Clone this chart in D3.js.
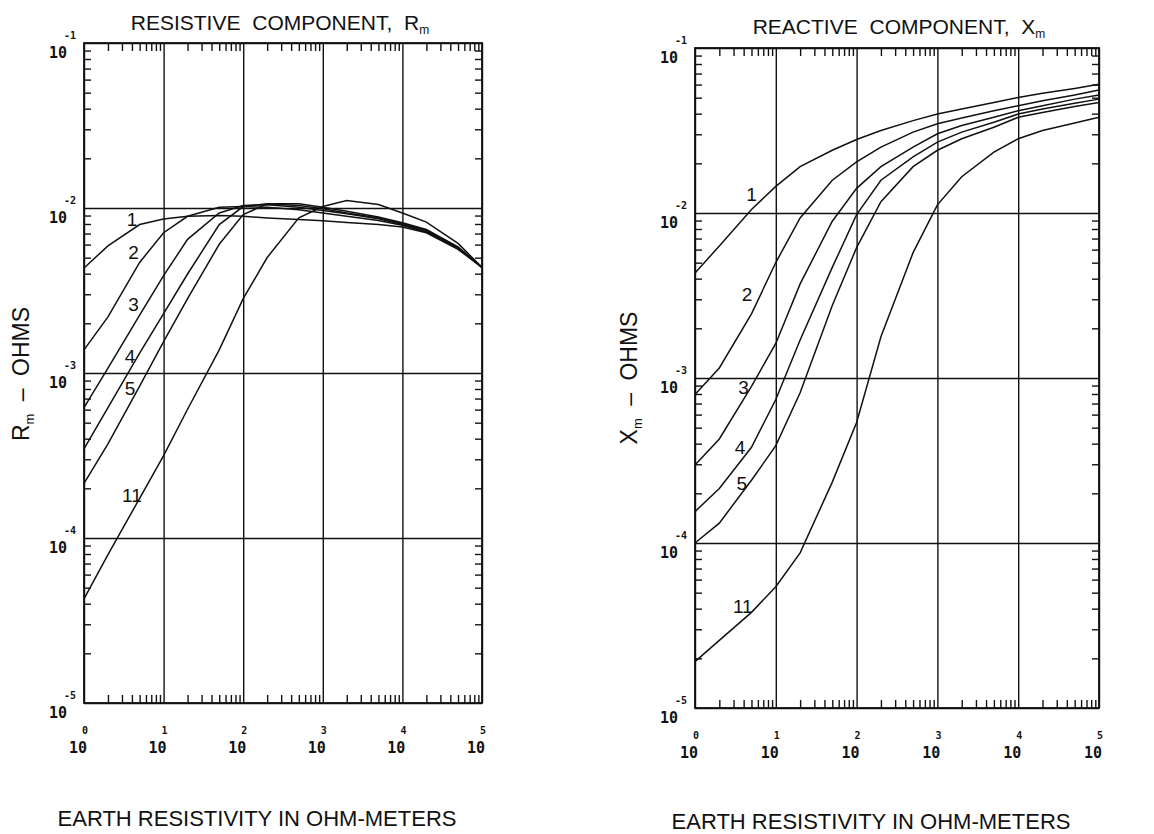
<!DOCTYPE html>
<html>
<head>
<meta charset="UTF-8">
<title>Resistive and reactive component vs earth resistivity</title>
<style>
body { margin:0; background:#fff; }
svg { display:block; }
.grid line, .minor line { stroke:#111; stroke-width:1.4px; }
.domain { display:none; }
.frame { fill:none; stroke:#111; stroke-width:1.8px; }
.curve { fill:none; stroke:#111; stroke-width:1.5px; }
.lab { font-family:"Liberation Sans", Arial, sans-serif; fill:#111; }
.tlab { font-family:"DejaVu Sans Mono", monospace; font-weight:bold; fill:#111; }
</style>
</head>
<body>
<script src="https://cdn.jsdelivr.net/npm/d3@7"></script>
<script>
// earth resistivity, ohm-meters (sample points along every curve)
const rho = [1, 2, 5, 10, 20, 50, 100, 200, 500, 1e3, 2e3, 5e3, 1e4, 2e4, 5e4, 1e5];
const curveIds = ['1', '2', '3', '4', '5', '11'];

// resistive component Rm, ohms
const rm1  = [4.33e-3, 5.89e-3, 7.94e-3, 8.57e-3, 8.91e-3, 9.02e-3, 8.91e-3, 8.71e-3, 8.51e-3, 8.36e-3, 8.17e-3, 7.94e-3, 7.67e-3, 7.08e-3, 5.62e-3, 4.37e-3];
const rm2  = [1.38e-3, 2.19e-3, 4.68e-3, 7.08e-3, 8.91e-3, 1.01e-2, 1.02e-2, 1.01e-2, 9.77e-3, 9.33e-3, 8.91e-3, 8.41e-3, 7.85e-3, 7.16e-3, 5.69e-3, 4.37e-3];
const rm3  = [6.17e-4, 1.07e-3, 2.24e-3, 3.89e-3, 6.46e-3, 9.33e-3, 1.035e-2, 1.047e-2, 1.01e-2, 9.66e-3, 9.23e-3, 8.61e-3, 7.94e-3, 7.24e-3, 5.75e-3, 4.37e-3];
const rm4  = [3.47e-4, 6.17e-4, 1.32e-3, 2.29e-3, 3.98e-3, 7.94e-3, 1.02e-2, 1.06e-2, 1.035e-2, 9.89e-3, 9.33e-3, 8.71e-3, 8.04e-3, 7.33e-3, 5.75e-3, 4.37e-3];
const rm5  = [2.14e-4, 3.72e-4, 8.32e-4, 1.55e-3, 2.82e-3, 6.03e-3, 9.12e-3, 1.06e-2, 1.06e-2, 1.01e-2, 9.55e-3, 8.81e-3, 8.13e-3, 7.41e-3, 5.82e-3, 4.37e-3];
const rm11 = [4.27e-5, 7.94e-5, 1.74e-4, 3.16e-4, 6.03e-4, 1.38e-3, 2.82e-3, 5.01e-3, 8.71e-3, 1.02e-2, 1.11e-2, 1.05e-2, 9.33e-3, 8.22e-3, 6.10e-3, 4.37e-3];

// reactive component Xm, ohms
const xm1  = [4.33e-3, 6.31e-3, 1.05e-2, 1.45e-2, 1.91e-2, 2.40e-2, 2.79e-2, 3.16e-2, 3.63e-2, 3.98e-2, 4.27e-2, 4.68e-2, 5.01e-2, 5.31e-2, 5.69e-2, 6.03e-2];
const xm2  = [7.94e-4, 1.15e-3, 2.45e-3, 5.01e-3, 9.33e-3, 1.58e-2, 2.04e-2, 2.51e-2, 3.09e-2, 3.47e-2, 3.76e-2, 4.17e-2, 4.47e-2, 4.79e-2, 5.19e-2, 5.56e-2];
const xm3  = [2.97e-4, 4.27e-4, 8.91e-4, 1.62e-3, 3.72e-3, 8.91e-3, 1.41e-2, 1.91e-2, 2.51e-2, 3.02e-2, 3.39e-2, 3.80e-2, 4.17e-2, 4.47e-2, 4.90e-2, 5.19e-2];
const xm4  = [1.55e-4, 2.14e-4, 3.80e-4, 7.41e-4, 1.70e-3, 4.68e-3, 9.77e-3, 1.58e-2, 2.19e-2, 2.69e-2, 3.09e-2, 3.55e-2, 3.98e-2, 4.27e-2, 4.62e-2, 4.90e-2];
const xm5  = [1.00e-4, 1.32e-4, 2.40e-4, 3.89e-4, 8.13e-4, 2.75e-3, 6.17e-3, 1.17e-2, 1.91e-2, 2.40e-2, 2.82e-2, 3.31e-2, 3.80e-2, 4.07e-2, 4.42e-2, 4.68e-2];
const xm11 = [1.91e-5, 2.57e-5, 3.80e-5, 5.43e-5, 8.71e-5, 2.34e-4, 5.37e-4, 1.78e-3, 5.75e-3, 1.12e-2, 1.66e-2, 2.34e-2, 2.82e-2, 3.16e-2, 3.51e-2, 3.80e-2];

// where the curve numbers sit, [rho, ohms]
const rmLabelAt = [[4.0, 8.5e-3], [4.2, 5.4e-3], [4.2, 2.6e-3], [3.8, 1.26e-3], [3.8, 8.1e-4], [4.0, 1.8e-4]];
const xmLabelAt = [[5.0, 1.29e-2], [4.4, 3.2e-3], [4.0, 8.7e-4], [3.6, 3.8e-4], [3.8, 2.3e-4], [3.9, 4.1e-5]];

const xTicks = [1, 10, 100, 1000, 10000, 100000];
const xTickExp = ['0', '1', '2', '3', '4', '5'];
const yTicks = [1e-5, 1e-4, 1e-3, 1e-2, 1e-1];
const yTickExp = ['-5', '-4', '-3', '-2', '-1'];

const svg = d3.select('body').append('svg').attr('width', 1154).attr('height', 834);

const minorX = [], minorY = [];
for (let e = 0; e < 5; e++) for (let m = 2; m <= 9; m++) minorX.push(m * Math.pow(10, e));
for (let e = -5; e < -1; e++) for (let m = 2; m <= 9; m++) minorY.push(m * Math.pow(10, e));

function panel(p) {
  const g = svg.append('g');
  const x = d3.scaleLog().domain([1, 1e5]).range([p.x0, p.x1]);
  const y = d3.scaleLog().domain([1e-5, 1e-1]).range([p.y1, p.y0]);
  const w = p.x1 - p.x0, h = p.y1 - p.y0;

  // decade grid
  g.append('g').attr('class', 'grid').attr('transform', `translate(0,${p.y1})`)
    .call(d3.axisBottom(x).tickValues(xTicks).tickSize(-h).tickFormat(''));
  g.append('g').attr('class', 'grid').attr('transform', `translate(${p.x0},0)`)
    .call(d3.axisLeft(y).tickValues(yTicks).tickSize(-w).tickFormat(''));

  // minor ticks on all four sides, pointing inward
  g.append('g').attr('class', 'minor').attr('transform', `translate(0,${p.y1})`)
    .call(d3.axisBottom(x).tickValues(minorX).tickSize(-8).tickFormat(''));
  g.append('g').attr('class', 'minor').attr('transform', `translate(0,${p.y0})`)
    .call(d3.axisTop(x).tickValues(minorX).tickSize(-8).tickFormat(''));
  g.append('g').attr('class', 'minor').attr('transform', `translate(${p.x0},0)`)
    .call(d3.axisLeft(y).tickValues(minorY).tickSize(-7).tickFormat(''));
  g.append('g').attr('class', 'minor').attr('transform', `translate(${p.x1},0)`)
    .call(d3.axisRight(y).tickValues(minorY).tickSize(-7).tickFormat(''));

  g.append('rect').attr('class', 'frame')
    .attr('x', p.x0).attr('y', p.y0).attr('width', w).attr('height', h);

  // tick labels: 10 with exponent
  xTicks.forEach((v, i) => {
    g.append('text').attr('class', 'tlab').attr('x', x(v) + 3).attr('y', p.y1 + 50)
      .attr('text-anchor', 'end').attr('font-size', 15).text('10');
    g.append('text').attr('class', 'tlab').attr('x', x(v) - 2).attr('y', p.y1 + 31)
      .attr('font-size', 10).text(xTickExp[i]);
  });
  yTicks.forEach((v, i) => {
    g.append('text').attr('class', 'tlab').attr('x', p.x0 - 17).attr('y', y(v) + 15)
      .attr('text-anchor', 'end').attr('font-size', 15).text('10');
    g.append('text').attr('class', 'tlab').attr('x', p.x0 - 20).attr('y', y(v) - 4)
      .attr('font-size', 10).text(yTickExp[i]);
  });

  const line = d3.line().x((d, i) => x(rho[i])).y(d => y(d));
  g.selectAll('.curve').data(p.series).join('path')
    .attr('class', 'curve').attr('d', line);

  g.selectAll('.clab').data(p.labelAt).join('text')
    .attr('class', 'lab clab').attr('font-size', 19)
    .attr('text-anchor', 'middle').attr('dominant-baseline', 'central')
    .attr('x', d => x(d[0])).attr('y', d => y(d[1]))
    .text((d, i) => curveIds[i]);

  // title
  const t = g.append('text').attr('class', 'lab').attr('x', p.titleX).attr('y', p.titleY)
    .attr('text-anchor', 'middle').attr('font-size', 21).attr('word-spacing', 6);
  t.append('tspan').text(p.title);
  t.append('tspan').attr('font-size', 12).attr('dy', 4).text('m');

  // x axis title
  g.append('text').attr('class', 'lab').attr('x', p.xlabX).attr('y', p.xlabY)
    .attr('text-anchor', 'middle').attr('font-size', 22)
    .text('EARTH RESISTIVITY IN OHM-METERS');

  // y axis title
  const yl = g.append('text').attr('class', 'lab')
    .attr('transform', `translate(${p.ylabX},${p.ylabY}) rotate(-90)`)
    .attr('text-anchor', 'middle').attr('font-size', 23).attr('word-spacing', 6);
  yl.append('tspan').text(p.ysym);
  yl.append('tspan').attr('font-size', 13).attr('dy', 5).text('m');
  yl.append('tspan').attr('dy', -5).text(' \u2013 OHMS');
}

panel({
  x0: 84, x1: 482, y0: 43, y1: 703,
  series: [rm1, rm2, rm3, rm4, rm5, rm11], labelAt: rmLabelAt,
  title: 'RESISTIVE COMPONENT, R', titleX: 280, titleY: 30,
  xlabX: 257, xlabY: 826, ylabX: 29, ylabY: 374, ysym: 'R'
});
panel({
  x0: 695, x1: 1099, y0: 48, y1: 708,
  series: [xm1, xm2, xm3, xm4, xm5, xm11], labelAt: xmLabelAt,
  title: 'REACTIVE COMPONENT, X', titleX: 899, titleY: 34,
  xlabX: 871, xlabY: 829, ylabX: 637, ylabY: 378, ysym: 'X'
});
</script>
</body>
</html>
